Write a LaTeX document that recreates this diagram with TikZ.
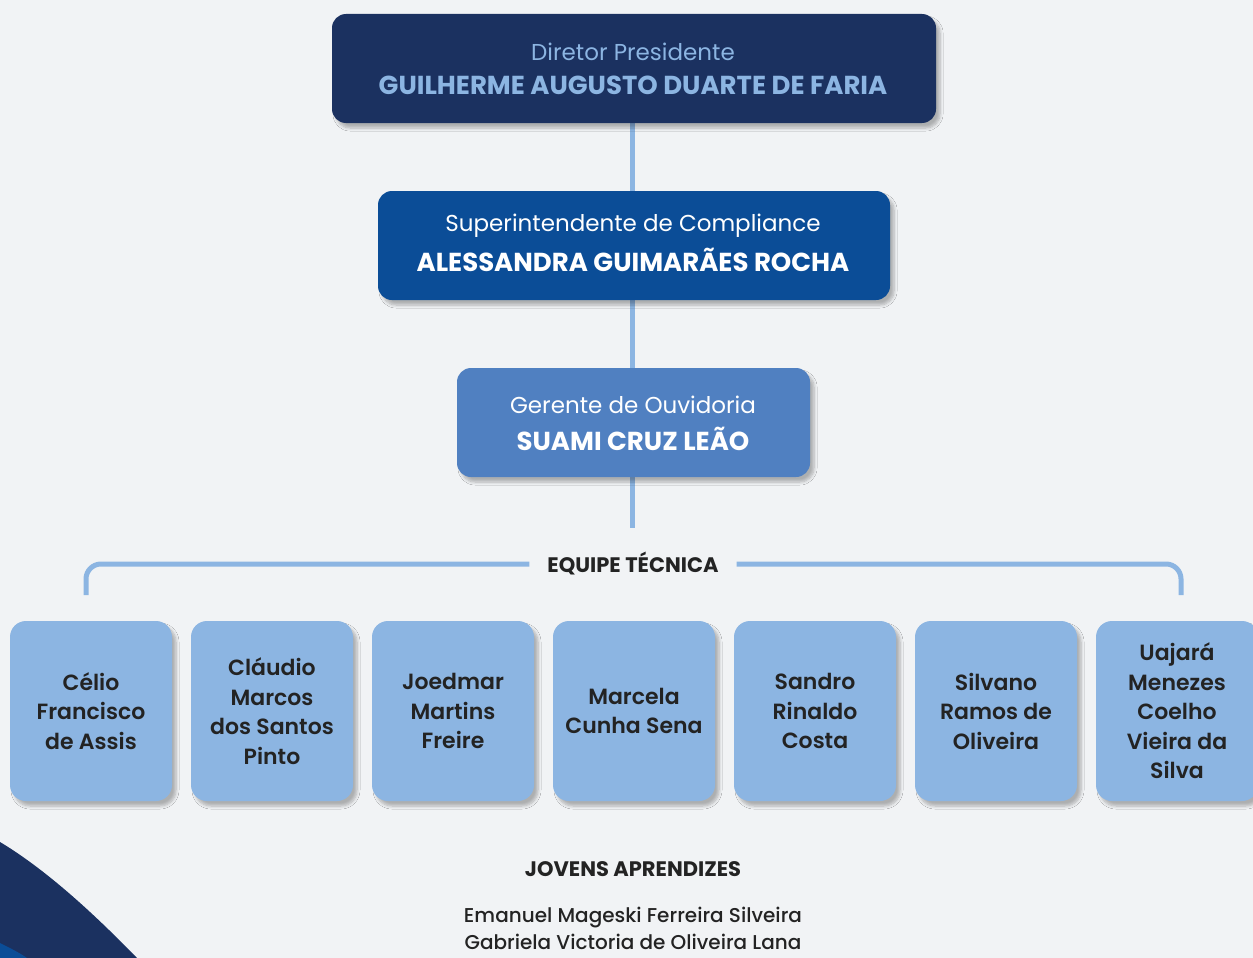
\documentclass[tikz,border=0pt]{standalone}
\usepackage{fontspec}
\setmainfont{Poppins}
\newfontfamily\semib{Poppins SemiBold}
\newfontfamily\medf{Poppins Medium}
\usetikzlibrary{shadows.blur}
\definecolor{navy}{HTML}{1B3160}
\definecolor{supc}{HTML}{0B4D97}
\definecolor{gerc}{HTML}{5080C1}
\definecolor{lightb}{HTML}{8CB5E2}
\definecolor{bgc}{HTML}{F1F3F5}
\definecolor{txt}{HTML}{232323}
\tikzset{
  x=1pt,y=-1pt,
  shad/.style={blur shadow={shadow xshift=4pt, shadow yshift=-5pt, shadow opacity=28, shadow blur radius=3pt, shadow blur steps=6}},
  headbox/.style={rounded corners=14pt, inner sep=0pt, align=center, shad},
  teambox/.style={fill=lightb, rounded corners=16pt, minimum width=162pt, minimum height=180pt,
    inner sep=0pt, align=center, text=txt, font=\semib\fontsize{22}{29.5}\selectfont, shad},
  conn/.style={draw=lightb, line width=5pt},
  lbl/.style={font=\fontsize{21}{25}\selectfont\bfseries, text=txt, inner sep=0pt},
}
\begin{document}
\begin{tikzpicture}
\useasboundingbox[fill=bgc] (0,0) rectangle (1253,958);
% decorative corner
\fill[navy] (0,842) .. controls (50,872) and (100,920) .. (137,958) -- (0,958) -- cycle;
\fill[supc] (0,943) .. controls (10,948) and (20,953) .. (27,958) -- (0,958) -- cycle;
% connectors
\coordinate (vend) at (632,528);
\draw[conn] (632,68) -- (632,191);
\draw[conn] (632,300) -- (632,368);
\draw[conn] (632,477) -- (vend);
\node[headbox, fill=navy, minimum width=604pt, minimum height=109pt] (dir) at (634,68.5) {};
\node[headbox, fill=supc, minimum width=512pt, minimum height=109pt] (sup) at (634,245.5) {};
\node[headbox, fill=gerc, minimum width=353pt, minimum height=109pt] (ger) at (633.5,422.5) {};
\node[text=lightb, font=\fontsize{23}{27}\selectfont] at (633,52) {Diretor Presidente};
\node[text=lightb, font=\fontsize{26}{30}\selectfont\bfseries] at (633,85) {GUILHERME AUGUSTO DUARTE DE FARIA};
\node[text=white, font=\fontsize{23}{27}\selectfont] at (633,226) {Superintendente de Compliance};
\node[text=white, font=\fontsize{26}{30}\selectfont\bfseries] at (633,260) {ALESSANDRA GUIMARÃES ROCHA};
\node[text=white, font=\fontsize{23}{27}\selectfont] at (633,405) {Gerente de Ouvidoria};
\node[text=white, font=\fontsize{26}{30}\selectfont\bfseries] at (633,439) {SUAMI CRUZ LEÃO};
% bracket
\node[lbl] (eq) at (633,564) {EQUIPE TÉCNICA};
\coordinate (bl) at (86,595);
\coordinate (br) at (1181,595);
\draw[conn, rounded corners=15pt] ([xshift=-18pt]eq.west) -- (86,564) -- (bl);
\draw[conn, rounded corners=15pt] ([xshift=18pt]eq.east) -- (1181,564) -- (br);
% team
\node[teambox] (t1) at (91,711) {Célio\\Francisco\\de Assis};
\node[teambox] (t2) at (272,711) {Cláudio\\Marcos\\dos Santos\\Pinto};
\node[teambox] (t3) at (453,711) {Joedmar\\Martins\\Freire};
\node[teambox] (t4) at (634,711) {Marcela\\Cunha Sena};
\node[teambox] (t5) at (815,711) {Sandro\\Rinaldo\\Costa};
\node[teambox] (t6) at (996,711) {Silvano\\Ramos de\\Oliveira};
\node[teambox] (t7) at (1177,711) {Uajará\\Menezes\\Coelho\\Vieira da\\Silva};
% jovens
\node[lbl] (jov) at (633,869) {JOVENS APRENDIZES};
\node[text=txt, font=\medf\fontsize{20}{27}\selectfont, align=center, inner sep=0pt, anchor=north] (jn) at (633,907) {Emanuel Mageski Ferreira Silveira\\Gabriela Victoria de Oliveira Lana};
\end{tikzpicture}
\end{document}
